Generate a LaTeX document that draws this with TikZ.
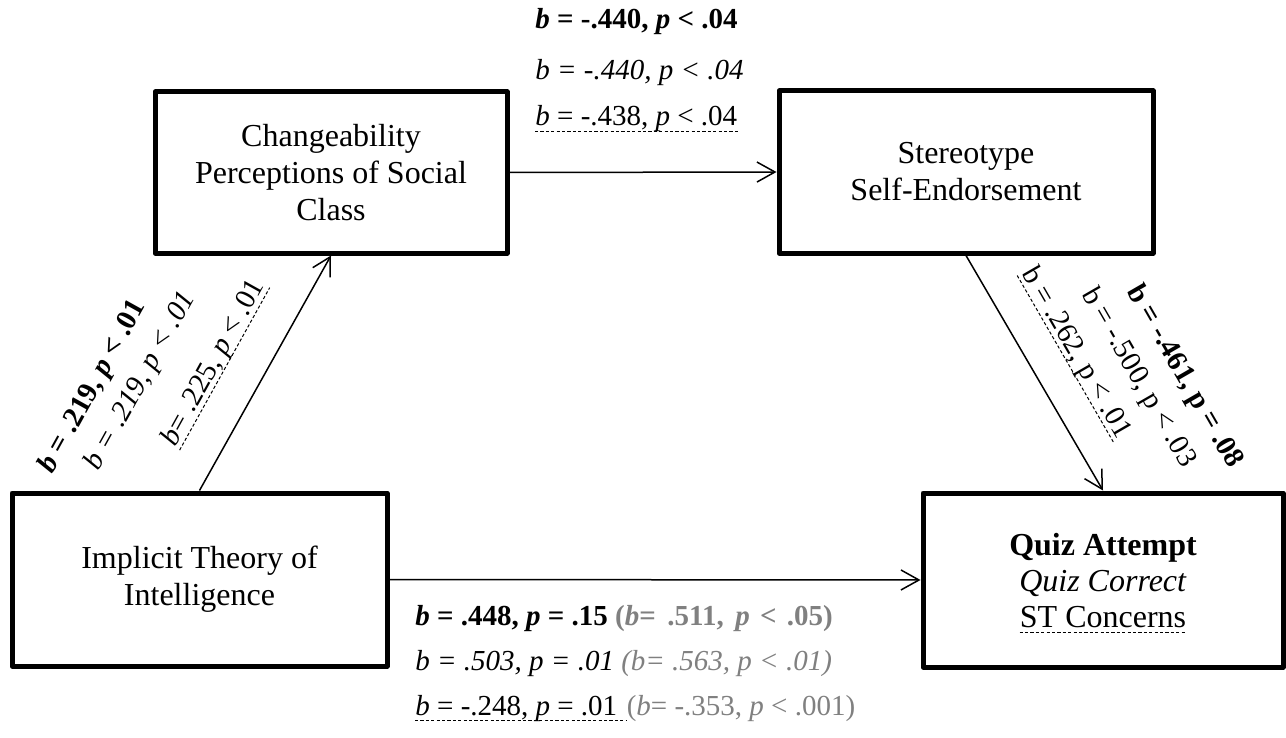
\documentclass[tikz,border=0pt]{standalone}
\usepackage{fontspec}
\setmainfont{Liberation Serif}
\usetikzlibrary{arrows.meta,calc}
\definecolor{pgray}{RGB}{128,128,128}
\newcommand\dashunder[1]{\draw[uline] ($(#1.base west)!2.6pt!-90:(#1.base east)$) -- ($(#1.base east)!2.6pt!90:(#1.base west)$);}
\begin{document}
\begin{tikzpicture}[x=0.5pt,y=-0.5pt,
  box/.style={draw, line width=2.5pt, line join=round, rectangle, inner sep=0pt},
  boxtext/.style={align=center, font=\fontsize{16}{18.5}\selectfont, inner sep=0pt},
  arr/.style={line width=0.75pt, -{Straight Barb[length=9pt,width=10pt,line width=0.75pt]}},
  lab/.style={font=\fontsize{14.5}{17}\selectfont, inner sep=0pt},
  uline/.style={line width=0.5pt, dash pattern=on 1.6pt off 1.1pt}]
\useasboundingbox (0,0) rectangle (1286,738);
% boxes
\node[box, boxtext, minimum width=176pt, minimum height=80.5pt] (A) at (331,172.5)
  {Changeability\\Perceptions of Social\\Class};
\node[box, boxtext, minimum width=187pt, minimum height=81pt] (B) at (966,172)
  {Stereotype\\Self-Endorsement};
\node[box, boxtext, minimum width=187.5pt, minimum height=86.5pt] (C) at (199.5,579.5)
  {Implicit Theory of\\Intelligence};
\node[box, minimum width=180pt, minimum height=87pt] (D) at (1103,580) {};
\node[boxtext, anchor=base] (q1) at (1103,555) {\textbf{Quiz Attempt}};
\node[boxtext, anchor=base] (q2) at (1103,591) {\textit{Quiz Correct}};
\node[boxtext, anchor=base] (q3) at (1103,627) {ST Concerns};
\dashunder{q3}
% connectors
\draw[arr] (C.north) -- (A.south);
\draw[arr] (A.east) -- (B.west);
\draw[arr] (B.south) -- (D.north);
\draw[arr] (C.east) -- (D.west);
% top labels
\node[lab, anchor=base west] (t1) at (535,29) {\bfseries\textit{b} = -.440, \textit{p} < .04};
\node[lab, anchor=base west] (t2) at (535,80) {\itshape b = -.440, p < .04};
\node[lab, anchor=base west] (t3) at (535,126) {\textit{b} = -.438, \textit{p} < .04};
\dashunder{t3}
% bottom labels
\node[lab, anchor=base west] (m1) at (415,625)
  {\bfseries\textit{b} = .448, \textit{p} = .15 \textcolor{pgray}{(\textit{b}=\kern0.4em.511,\kern0.4em\textit{p}\kern0.35em<\kern0.35em.05)}};
\node[lab, anchor=base west] (m2) at (415,670)
  {\itshape b = .503, p = .01 \textcolor{pgray}{(b= .563, p < .01)}};
\node[lab, anchor=base west] (m3a) at (415,715) {\textit{b} = -.248, \textit{p} = .01\kern0.3em};
\dashunder{m3a}
\node[lab, anchor=base west, text=pgray] (m3b) at (m3a.base east) {(\textit{b}= -.353, \textit{p} < .001)};
% left rotated labels
\node[lab, rotate=61] (l1) at (93,387) {\bfseries\textit{b} = .219, \textit{p} < .01};
\node[lab, rotate=61] (l2) at (141,381) {\itshape b = .219, p < .01};
\node[lab, rotate=61] (l3) at (214,363) {\textit{b}= .225, \textit{p} < .01};
\dashunder{l3}
% right rotated labels
\node[lab, rotate=-60] (r1) at (1184,377) {\bfseries b = -.461, p = .08};
\node[lab, rotate=-60] (r2) at (1138,378) {b = -.500, p < .03};
\node[lab, rotate=-60] (r3) at (1076,353) {b = .262, p < .01};
\dashunder{r3}
\end{tikzpicture}
\end{document}
